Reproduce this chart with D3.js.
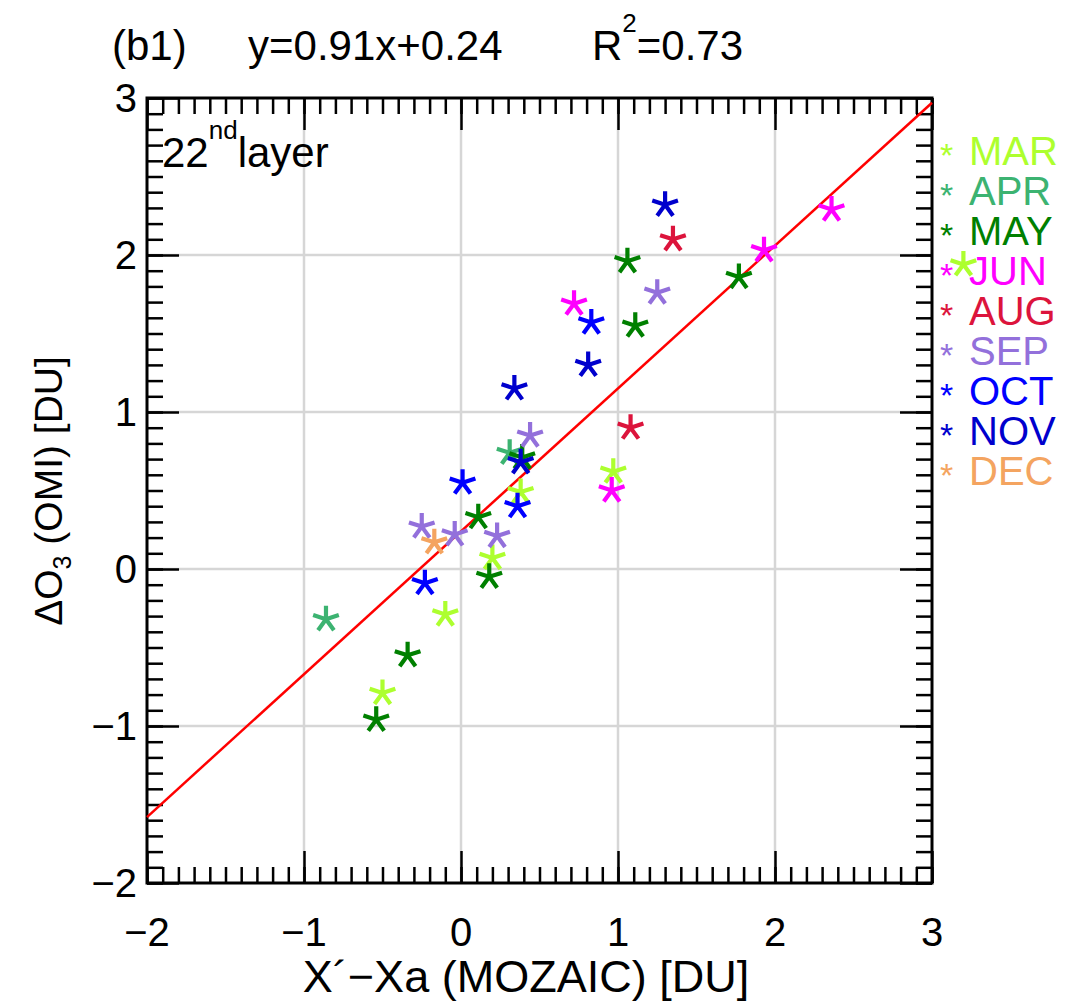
<!DOCTYPE html>
<html><head><meta charset="utf-8">
<script src="https://cdn.jsdelivr.net/npm/d3@7"></script>
<style>
html,body{margin:0;padding:0;background:#fff;}
text{font-family:"Liberation Sans",Arial,Helvetica,sans-serif;}
</style>
</head><body>
<svg id="chart" width="1065" height="1002"></svg>
<script>
// ---- data ----
const months = ["MAR","APR","MAY","JUN","AUG","SEP","OCT","NOV","DEC"];
const monthColors = ["#adff2f","#3cb371","#008000","#ff00ff","#dc143c","#9370db","#0000ff","#0000cd","#f4a460"];
const marX = [-0.50,-0.10,0.20,0.38,0.97,3.20];
const marY = [-0.79,-0.29,0.07,0.49,0.62,1.94];
const aprX = [-0.86,0.31];
const aprY = [-0.32,0.74];
const mayX = [-0.54,-0.34,0.18,0.11,0.39,1.06,1.11,1.77];
const mayY = [-0.96,-0.55,-0.05,0.33,0.71,1.96,1.55,1.86];
const junX = [0.72,0.96,1.93,2.36];
const junY = [1.69,0.50,2.03,2.29];
const augX = [1.35,1.08];
const augY = [2.10,0.90];
const sepX = [-0.25,-0.04,0.23,0.44,1.25];
const sepY = [0.27,0.22,0.21,0.85,1.76];
const octX = [-0.23,0.01,0.36,0.83];
const octY = [-0.09,0.55,0.40,1.57];
const novX = [0.34,0.38,0.81,1.30];
const novY = [1.15,0.68,1.30,2.32];
const decX = [-0.17];
const decY = [0.17];
const fitSlope = 0.91, fitIntercept = 0.24;
const r2 = "0.73";
const xTicks = [-2,-1,0,1,2,3];
const yTicks = [-2,-1,0,1,2,3];
const gridVals = [-1,0,1,2];

const seriesX = [marX,aprX,mayX,junX,augX,sepX,octX,novX,decX];
const seriesY = [marY,aprY,mayY,junY,augY,sepY,octY,novY,decY];

// ---- layout ----
const L=147,R=932,T=98,B=883;
const svg = d3.select("#chart");
const x = d3.scaleLinear().domain([-2,3]).range([L,R]);
const y = d3.scaleLinear().domain([-2,3]).range([B,T]);
const fmt = d3.format("d");

// grid
const g = svg.append("g");
g.selectAll("line.gx").data(gridVals).join("line")
  .attr("x1",d=>x(d)).attr("x2",d=>x(d)).attr("y1",T).attr("y2",B)
  .attr("stroke","#d6d6d6").attr("stroke-width",2.5);
g.selectAll("line.gy").data(gridVals).join("line")
  .attr("y1",d=>y(d)).attr("y2",d=>y(d)).attr("x1",L).attr("x2",R)
  .attr("stroke","#d6d6d6").attr("stroke-width",2.5);

// ticks (inward) on four sides
const minorVals = d3.range(-2,3.0001,0.1).map(v=>+v.toFixed(1));
function addAxis(axisFn, scale, tr, vals, len){
  const a = svg.append("g").attr("transform",tr)
    .call(axisFn(scale).tickValues(vals).tickSizeInner(-len).tickSizeOuter(0).tickFormat(""));
  a.select(".domain").remove();
  a.selectAll("line").attr("stroke","#000").attr("stroke-width",2.5);
}
addAxis(d3.axisBottom, x, `translate(0,${B})`, minorVals, 16);
addAxis(d3.axisBottom, x, `translate(0,${B})`, xTicks, 32);
addAxis(d3.axisTop, x, `translate(0,${T})`, minorVals, 16);
addAxis(d3.axisTop, x, `translate(0,${T})`, xTicks, 32);
addAxis(d3.axisLeft, y, `translate(${L},0)`, minorVals, 16);
addAxis(d3.axisLeft, y, `translate(${L},0)`, yTicks, 32);
addAxis(d3.axisRight, y, `translate(${R},0)`, minorVals, 16);
addAxis(d3.axisRight, y, `translate(${R},0)`, yTicks, 32);

svg.append("rect").attr("x",L).attr("y",T).attr("width",R-L).attr("height",B-T)
  .attr("fill","none").attr("stroke","#000").attr("stroke-width",3);

// tick labels
svg.selectAll("text.xt").data(xTicks).join("text")
  .attr("x",d=>x(d)).attr("y",B+63).attr("text-anchor","middle")
  .attr("font-size",40).text(d=>fmt(d));
svg.selectAll("text.yt").data(yTicks).join("text")
  .attr("x",L-10).attr("y",d=>y(d)+14).attr("text-anchor","end")
  .attr("font-size",40).text(d=>fmt(d));

// fit line
svg.append("line")
  .attr("x1",x(-2)).attr("y1",y(fitSlope*-2+fitIntercept))
  .attr("x2",x(3)).attr("y2",y(fitSlope*3+fitIntercept))
  .attr("stroke","#ff0000").attr("stroke-width",2.5);

// 5-arm asterisk symbol
const asterisk5 = {
  draw(ctx, size){
    const r = Math.sqrt(size);
    for(let i=0;i<5;i++){
      const a = -Math.PI/2 + i*2*Math.PI/5;
      ctx.moveTo(0,0);
      ctx.lineTo(r*Math.cos(a), r*Math.sin(a));
    }
  }
};
const sym = d3.symbol().type(asterisk5).size(13.5*13.5);
seriesX.forEach((xs,i)=>{
  const pts = xs.map((v,j)=>[v, seriesY[i][j]]);
  svg.append("g").selectAll("path").data(pts).join("path")
    .attr("transform",d=>`translate(${x(d[0])},${y(d[1])})`)
    .attr("d",sym()).attr("fill","none")
    .attr("stroke",monthColors[i]).attr("stroke-width",4.2)
    .attr("stroke-linecap","butt");
});

// legend
const lg = svg.append("g");
months.forEach((m,i)=>{
  const by = 165 + 40*i;
  lg.append("text").attr("x",940).attr("y",by+2).attr("font-size",34)
    .attr("fill",monthColors[i]).text("*");
  lg.append("text").attr("x",969).attr("y",by).attr("font-size",40)
    .attr("fill",monthColors[i]).text(m);
});

// inner label
const il = svg.append("text").attr("x",162).attr("y",167).attr("font-size",42);
il.append("tspan").text("22");
il.append("tspan").attr("font-size",26).attr("dy",-28).text("nd");
il.append("tspan").attr("dy",28).text("layer");

// title
svg.append("text").attr("x",112).attr("y",60).attr("font-size",42).text("(b1)");
svg.append("text").attr("x",248).attr("y",60).attr("font-size",42)
  .text(`y=${fitSlope}x+${fitIntercept}`);
const rt = svg.append("text").attr("x",592).attr("y",60).attr("font-size",42);
rt.append("tspan").text("R");
rt.append("tspan").attr("font-size",26).attr("dy",-28).text("2");
rt.append("tspan").attr("dy",28).text("="+r2);

// axis titles
svg.append("text").attr("x",526).attr("y",992).attr("text-anchor","middle")
  .attr("font-size",45).text("X\u00b4\u2212Xa (MOZAIC) [DU]");
const yl = svg.append("text").attr("transform","translate(62,491) rotate(-90)")
  .attr("text-anchor","middle").attr("font-size",39);
yl.append("tspan").text("\u0394O");
yl.append("tspan").attr("font-size",25).attr("dy",9).text("3");
yl.append("tspan").attr("dy",-9).text(" (OMI) [DU]");
</script>
</body></html>
